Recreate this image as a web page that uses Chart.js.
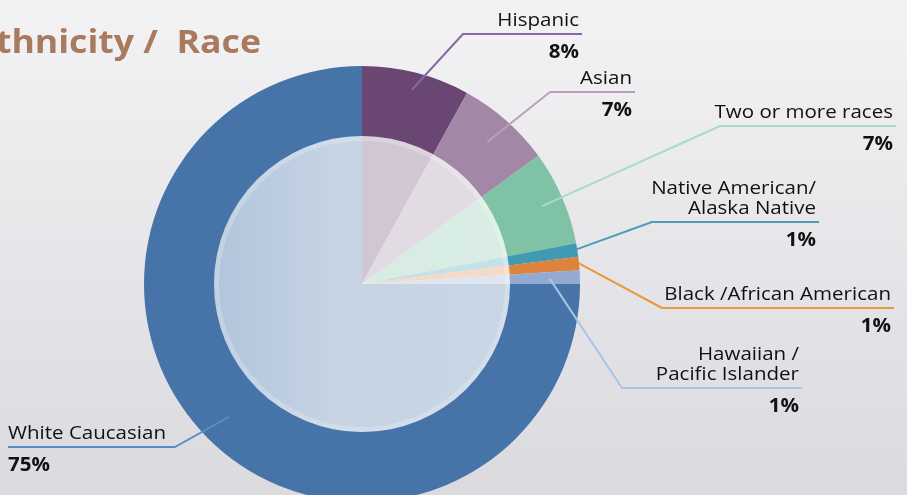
<!DOCTYPE html>
<html>
<head>
<meta charset="utf-8">
<script src="https://cdn.jsdelivr.net/npm/chart.js@4.4.1/dist/chart.umd.min.js"></script>
<style>
html,body{margin:0;padding:0;overflow:hidden;}
body{width:907px;height:495px;background:linear-gradient(#f3f3f5,#dadadf);}
#wrap{position:relative;width:907px;height:495px;}
</style>
</head>
<body>
<div id="wrap"><canvas id="pie"></canvas></div>
<script>
let categories = ["Hispanic","Asian","Two or more races","Native American/ Alaska Native","Black /African American","Hawaiian / Pacific Islander","White Caucasian"];
let values = [8,7,7,1,1,1,75];
let labelLines = [["Hispanic"],["Asian"],["Two or more races"],["Native American/","Alaska Native"],["Black /African American"],["Hawaiian /","Pacific Islander"],["White Caucasian"]];
let sliceColors = ["#6a4673","#a288a6","#7fc2a5","#3f9ab2","#dd833c","#93aad3","#4674a8"];
let lineColors = ["#8769a9","#b9a0bd","#a9dcc3","#4e9db8","#e8993a","#a9c4e4","#5b8bc7"];

/* callout layout: radius fraction of start point, elbow, end of horizontal line */
let callouts = [
   {f:0.92, ex:463, ey:34,  end:582},
   {f:0.87, ex:550, ey:92,  end:635},
   {f:0.90, ex:720, ey:126, end:896},
   {f:0.98, ex:652, ey:222, end:819},
   {f:1.00, ex:662, ey:308, end:894},
   {f:0.86, ex:622, ey:388, end:802},
   {f:0.86, ex:175, ey:447, end:8}
];

let labelFont = "18px 'Open Sans'";
let pctFont = "bold 19px 'Open Sans'";

/* slide font is wider than Open Sans, stretch a bit */
function wideText(ctx,text,x,y,sx){
   ctx.save();
   ctx.translate(x,y);
   ctx.scale(sx,1);
   ctx.fillText(text,0,0);
   ctx.restore();
}

let calloutPlugin = {

   id: "callouts",

   afterDatasetsDraw: function(chart){

      let ctx = chart.ctx;
      let arc = chart.getDatasetMeta(0).data[0];
      let cx = arc.x, cy = arc.y;
      let r = 148;

      ctx.save();
      let grad = ctx.createLinearGradient(cx - r,0,cx + r,0);
      grad.addColorStop(0,"rgba(255,255,255,0.58)");
      grad.addColorStop(0.4,"rgba(255,255,255,0.69)");
      grad.addColorStop(1,"rgba(255,255,255,0.70)");
      ctx.fillStyle = grad;
      ctx.beginPath();
      ctx.arc(cx,cy,r,0,Math.PI*2);
      ctx.fill();

      ctx.strokeStyle = "rgba(255,255,255,0.22)";
      ctx.lineWidth = 5;
      ctx.beginPath();
      ctx.arc(cx,cy,r - 2.5,0,Math.PI*2);
      ctx.stroke();
      ctx.restore();

   },

   afterDraw: function(chart){

      let ctx = chart.ctx;
      let meta = chart.getDatasetMeta(0);

      ctx.save();

      /* title, cut at the left edge like the slide */
      ctx.font = "bold 33px 'Open Sans'";
      ctx.fillStyle = "#a97a5e";
      ctx.textAlign = "right";
      ctx.textBaseline = "alphabetic";
      wideText(ctx,"Ethnicity /  Race",261,53,1.08);

      meta.data.forEach(function(el,i){

         let c = callouts[i];
         let p = el.getProps(["x","y","startAngle","endAngle","outerRadius"],true);
         let mid = (p.startAngle + p.endAngle) / 2;
         let sx = p.x + Math.cos(mid) * p.outerRadius * c.f;
         let sy = p.y + Math.sin(mid) * p.outerRadius * c.f;

         ctx.strokeStyle = lineColors[i];
         ctx.lineWidth = 2;
         ctx.lineJoin = "round";
         ctx.beginPath();
         ctx.moveTo(sx,sy);
         ctx.lineTo(c.ex,c.ey);
         ctx.lineTo(c.end,c.ey);
         ctx.stroke();

         let left = c.end < c.ex;
         let tx = left ? c.end : c.end - 3;
         ctx.textAlign = left ? "left" : "right";
         ctx.fillStyle = "#111";

         ctx.font = labelFont;
         let lines = labelLines[i];
         lines.forEach(function(t,k){
            wideText(ctx,t,tx,c.ey - 8 - (lines.length - 1 - k) * 20,1.14);
         });

         ctx.font = pctFont;
         wideText(ctx,values[i] + "%",tx,c.ey + 24,1.08);

      });

      ctx.restore();

   }

};

new Chart(document.getElementById("pie"), {

   type: "pie",

   data: {
      labels: categories,
      datasets: [{
         data: values,
         backgroundColor: sliceColors,
         borderWidth: 0,
         radius: 218
      }]
   },

   options: {
      responsive: true,
      maintainAspectRatio: false,
      devicePixelRatio: 1,
      animation: false,
      events: [],
      layout: { padding: { left: 0, right: 183, top: 73, bottom: 0 } },
      plugins: {
         legend: { display: false },
         tooltip: { enabled: false }
      }
   },

   plugins: [calloutPlugin]

});
</script>
</body>
</html>
